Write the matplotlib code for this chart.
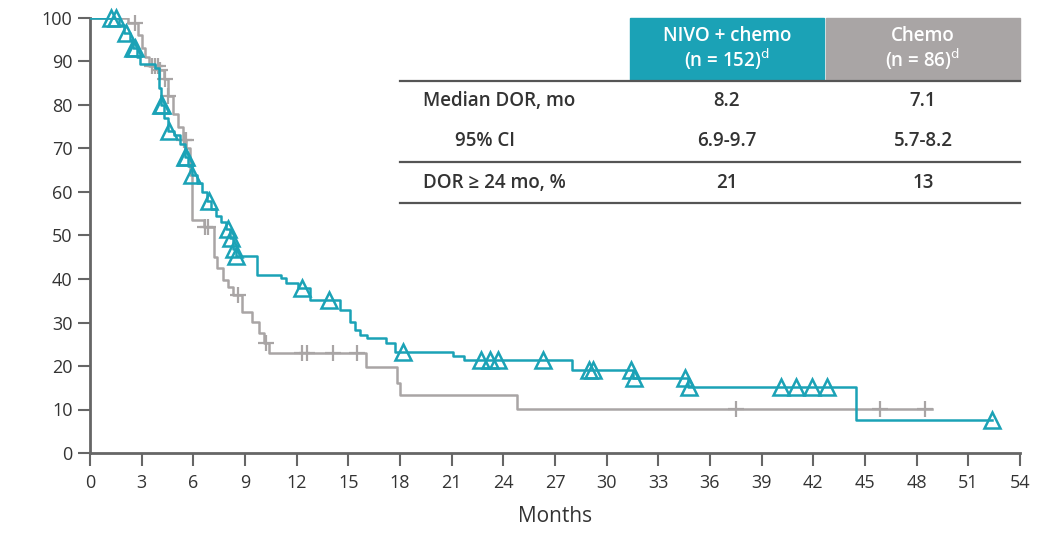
import numpy as np
import matplotlib
matplotlib.use("Agg")
import matplotlib.pyplot as plt
from matplotlib.patches import Rectangle

plt.rcParams['font.family'] = ['Open Sans', 'DejaVu Sans']

# KM step data (month of each step, % responders still in response)
nivo_t = [0, 1.7, 2.0, 2.3, 2.5, 2.7, 2.9, 3.8, 4.0, 4.1, 4.3, 4.5, 4.9, 5.2, 5.5, 5.7,
          5.9, 6.2, 6.5, 6.8, 7.0, 7.3, 7.6, 7.9, 8.1, 8.3, 8.45, 9.7, 11.1, 11.4, 12.1,
          12.8, 14.5, 15.1, 15.4, 15.7, 16.1, 17.2, 17.7, 21.1, 21.7, 28.0, 31.5, 34.7,
          44.5, 52.4]
nivo_s = [100, 98.5, 96.5, 95, 93, 91, 89.5, 88.5, 84, 80, 77, 74, 73, 71, 68, 66,
          64, 62, 60, 58, 56, 54.5, 53, 51.5, 49.5, 47, 45.3, 41, 40.2, 39, 38,
          35.2, 32.9, 30.2, 28.3, 27.1, 26.4, 25.2, 23.3, 22.3, 21.4, 19.1, 17.2, 15.2,
          7.7, 7.7]
nivo_cens = [1.2, 1.5, 2.1, 2.5, 2.6, 4.1, 4.2, 4.6, 5.5, 5.6, 5.9, 6.9, 8.0, 8.2,
             8.35, 8.5, 12.3, 13.9, 18.2, 22.7, 23.2, 23.7, 26.3, 29.0, 29.2, 31.4,
             31.6, 34.55, 34.8, 40.1, 41.0, 41.9, 42.8, 52.4]

chemo_t = [0, 2.2, 2.8, 3.0, 3.2, 3.4, 4.0, 4.3, 4.5, 4.8, 5.1, 5.4, 5.6, 5.8, 5.9,
           6.6, 7.2, 7.4, 7.7, 8.0, 8.3, 8.8, 9.4, 9.8, 10.1, 10.4, 16.0, 17.8, 18.0,
           24.8, 48.9]
chemo_s = [100, 98.8, 96, 93, 91, 89, 88, 86, 82, 78, 75, 72, 70, 64, 53.6,
           52, 45.1, 42.5, 39.8, 38.2, 36.3, 32.5, 30.2, 27.6, 25.3, 22.9, 19.8, 16.0, 13.3,
           10.1, 10.1]
chemo_cens = [2.6, 3.6, 3.8, 3.95, 4.05, 4.35, 4.5, 5.45, 5.55, 6.7, 6.85, 8.6, 10.2,
              12.3, 12.6, 14.1, 15.5, 37.5, 45.9, 48.5]

row_labels = ['Median DOR, mo', '95% CI', 'DOR \u2265 24 mo, %']
nivo_vals = ['8.2', '6.9-9.7', '21']
chemo_vals = ['7.1', '5.7-8.2', '13']
head_nivo = 'NIVO + chemo\n(n = 152)$^{\\rm d}$'
head_chemo = 'Chemo\n(n = 86)$^{\\rm d}$'

teal = '#1ba2b6'
grey = '#a9a5a5'
axc = '#666666'


def at(t, s, x):
    i = np.searchsorted(t, x, side='right') - 1
    return np.asarray(s)[i]


fig = plt.figure(figsize=(10.54, 5.41), dpi=100)
ax = fig.add_axes([90 / 1054, 88 / 541, 930 / 1054, 435 / 541])

ax.plot(chemo_t, chemo_s, drawstyle='steps-post', color=grey, lw=1.8, zorder=2)
ax.plot(chemo_cens, at(chemo_t, chemo_s, chemo_cens), ls='none', marker='+',
        ms=11, mew=1.6, color=grey, clip_on=False, zorder=3)
ax.plot(nivo_t, nivo_s, drawstyle='steps-post', color=teal, lw=1.8, zorder=4)
ax.plot(nivo_cens, at(nivo_t, nivo_s, nivo_cens), ls='none', marker='^', ms=12,
        mew=1.8, mfc='none', mec=teal, clip_on=False, zorder=5)

ax.set_xlim(0, 54)
ax.set_ylim(0, 100)
ax.set_xticks(np.arange(0, 55, 3))
ax.set_yticks(np.arange(0, 101, 10))
for s in ['top', 'right']:
    ax.spines[s].set_visible(False)
for s in ['left', 'bottom']:
    ax.spines[s].set_color(axc)
    ax.spines[s].set_linewidth(2)
ax.tick_params(axis='both', colors=axc, width=1.5, length=9, labelsize=13,
               labelcolor='#333333')
ax.tick_params(axis='x', pad=6)
ax.set_xlabel('Months', fontsize=15, color='#333333', labelpad=10)

# table overlay in pixel coordinates
tb = fig.add_axes([0, 0, 1, 1], facecolor='none')
tb.set_xlim(0, 1054)
tb.set_ylim(541, 0)
tb.axis('off')
tb.add_patch(Rectangle((630, 18), 194, 62, color=teal))
tb.add_patch(Rectangle((826, 18), 194, 62, color=grey))
tb.text(727, 49, head_nivo, color='white', ha='center', va='center', fontsize=13.5,
        fontweight='semibold', linespacing=1.0)
tb.text(923, 49, head_chemo, color='white', ha='center', va='center', fontsize=13.5,
        fontweight='semibold', linespacing=1.0)
for y in [81, 162, 203]:
    tb.plot([400, 1020], [y, y], color='#555555', lw=1.6)
row_y = [101, 141, 183]
row_x = [423, 455, 423]
for lab, y, x, a, b in zip(row_labels, row_y, row_x, nivo_vals, chemo_vals):
    tb.text(x, y, lab, ha='left', va='center', fontsize=13.5, color='#333333',
            fontweight='semibold')
    tb.text(727, y, a, ha='center', va='center', fontsize=13.5, color='#333333',
            fontweight='semibold')
    tb.text(923, y, b, ha='center', va='center', fontsize=13.5, color='#333333',
            fontweight='semibold')

fig.savefig('out.png', dpi=100)
